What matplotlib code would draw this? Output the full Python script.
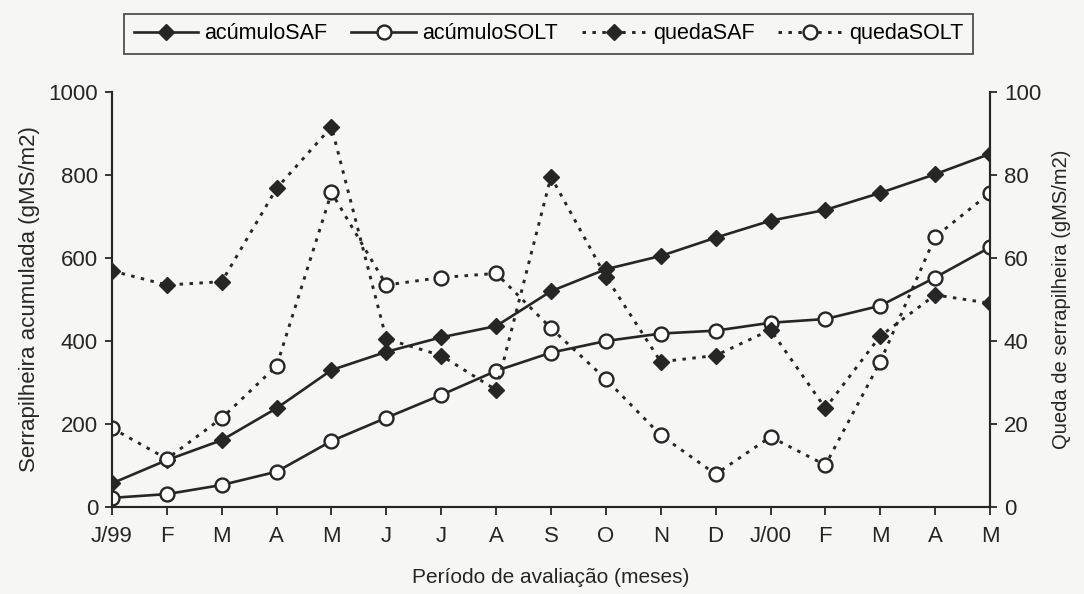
import matplotlib
matplotlib.use("Agg")
import matplotlib.pyplot as plt
import matplotlib as mpl

mpl.rc("font", family=["Liberation Sans", "DejaVu Sans"], size=13)

# ----- data -----
months = ["J/99", "F", "M", "A", "M", "J", "J", "A", "S", "O",
          "N", "D", "J/00", "F", "M", "A", "M"]

acumulo_saf = [57, 113, 161, 238, 330, 374, 409, 436, 520, 573,
               605, 649, 690, 716, 757, 802, 851]
acumulo_solt = [22, 31, 53, 85, 159, 215, 270, 328, 372, 400,
                418, 425, 444, 453, 485, 553, 626]
queda_saf = [56.9, 53.5, 54.3, 76.8, 91.6, 40.5, 36.5, 28.2, 79.6, 55.5,
             35.0, 36.5, 42.7, 23.8, 41.2, 51.1, 49.1]
queda_solt = [19.0, 11.6, 21.4, 34.0, 75.8, 53.5, 55.3, 56.3, 43.1, 30.8,
              17.3, 7.9, 16.9, 10.1, 35.0, 65.1, 75.7]

bg = "#f6f6f4"
ink = "#262626"

fig = plt.figure(figsize=(10.84, 5.94), dpi=100, facecolor=bg)
ax = fig.add_axes([0.1033, 0.1465, 0.81, 0.6985])
ax.set_facecolor(bg)
ax2 = ax.twinx()

x = list(range(len(months)))

l1, = ax.plot(x, acumulo_saf, color=ink, linestyle="-", linewidth=1.9,
              marker="D", markersize=8.5, markerfacecolor=ink, markeredgecolor=ink,
              zorder=3)
l2, = ax.plot(x, acumulo_solt, color=ink, linestyle="-", linewidth=1.9,
              marker="o", markersize=10, markerfacecolor="white", markeredgecolor=ink,
              markeredgewidth=1.7, zorder=3)
l3, = ax2.plot(x, queda_saf, color=ink, linestyle=(0, (1.2, 2.2)), linewidth=2.1,
               marker="D", markersize=8.5, markerfacecolor=ink, markeredgecolor=ink)
l4, = ax2.plot(x, queda_solt, color=ink, linestyle=(0, (1.2, 2.2)), linewidth=2.1,
               marker="o", markersize=10, markerfacecolor="white", markeredgecolor=ink,
               markeredgewidth=1.7)

ax.set_xlim(0, len(months) - 1)
ax.set_ylim(0, 1000)
ax2.set_ylim(0, 100)
ax.set_yticks([0, 200, 400, 600, 800, 1000])
ax2.set_yticks([0, 20, 40, 60, 80, 100])
ax.set_xticks(x)
ax.set_xticklabels(months)

for a in (ax, ax2):
    a.spines["top"].set_visible(False)
    for s in a.spines.values():
        s.set_color(ink)
        s.set_linewidth(1.5)
    a.tick_params(colors=ink, labelsize=16, width=1.3, length=5, direction="out")
ax.tick_params(axis="x", length=6, pad=8)
ax.tick_params(axis="y", pad=5)
ax2.tick_params(axis="y", pad=5)

ax.set_ylabel("Serrapilheira acumulada (gMS/m2)", fontsize=16, color=ink, labelpad=6)
ax2.set_ylabel("Queda de serrapilheira (gMS/m2)", fontsize=14.5, color=ink, labelpad=8)
ax.set_xlabel("Período de avaliação (meses)", fontsize=15, color=ink, labelpad=15)

leg = fig.legend([l1, l2, l3, l4],
                 ["acúmuloSAF", "acúmuloSOLT", "quedaSAF", "quedaSOLT"],
                 loc="upper center", bbox_to_anchor=(0.506, 0.995), ncol=4,
                 frameon=True, fancybox=False, fontsize=15.5, handlelength=3.0,
                 columnspacing=1.1, handletextpad=0.3, borderpad=0.45)
leg.get_frame().set_edgecolor(ink)
leg.get_frame().set_linewidth(1.3)
leg.get_frame().set_facecolor(bg)

plt.savefig("out.png", dpi=100, facecolor=bg)
plt.close(fig)
